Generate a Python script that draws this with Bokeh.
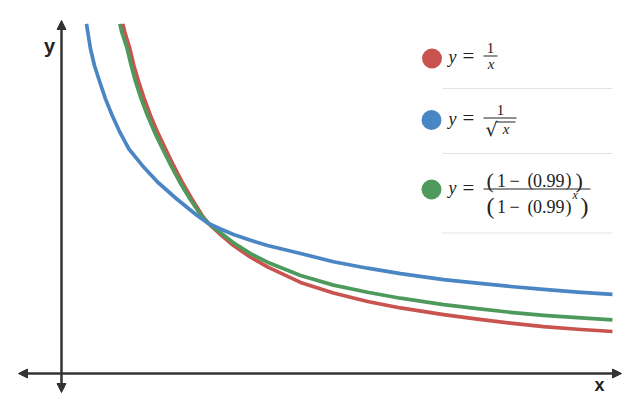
from bokeh.plotting import figure
from bokeh.models import Range1d, Label, Arrow, NormalHead
from bokeh.embed import file_html
from bokeh.resources import INLINE

# ---- data (math units: origin at axes crossing) ----
red_x = [0.417, 0.431, 0.465, 0.492, 0.526, 0.563, 0.605, 0.653, 0.707, 0.762,
         0.821, 0.886, 0.957, 1.000, 1.082, 1.170, 1.286, 1.401, 1.626, 1.850,
         2.082, 2.306, 2.599, 2.830, 3.054, 3.279, 3.510, 3.748]
red_y = [2.331, 2.275, 2.165, 2.053, 1.942, 1.831, 1.720, 1.609, 1.498, 1.387,
         1.275, 1.165, 1.053, 1.000, 0.926, 0.853, 0.775, 0.711, 0.607, 0.537,
         0.480, 0.437, 0.393, 0.362, 0.336, 0.313, 0.295, 0.280]

blue_x = [0.170, 0.179, 0.197, 0.224, 0.261, 0.299, 0.345, 0.397, 0.458, 0.549,
          0.655, 0.782, 0.923, 1.000, 1.082, 1.170, 1.286, 1.401, 1.626, 1.850,
          2.082, 2.306, 2.599, 2.830, 3.054, 3.279, 3.510, 3.748]
blue_y = [2.331, 2.275, 2.165, 2.053, 1.942, 1.831, 1.720, 1.609, 1.498, 1.387,
          1.275, 1.165, 1.053, 1.000, 0.963, 0.927, 0.888, 0.853, 0.800, 0.745,
          0.702, 0.666, 0.626, 0.602, 0.580, 0.561, 0.543, 0.527]

green_x = [0.397, 0.410, 0.447, 0.474, 0.505, 0.542, 0.585, 0.633, 0.687, 0.744,
           0.805, 0.873, 0.950, 1.000, 1.082, 1.170, 1.286, 1.401, 1.626, 1.850,
           2.082, 2.306, 2.599, 2.830, 3.054, 3.279, 3.510, 3.748]
green_y = [2.331, 2.275, 2.165, 2.053, 1.942, 1.831, 1.720, 1.609, 1.498, 1.387,
           1.275, 1.165, 1.053, 1.000, 0.938, 0.872, 0.799, 0.742, 0.653, 0.589,
           0.542, 0.502, 0.459, 0.432, 0.408, 0.388, 0.372, 0.358]

RED = "#c9534f"
BLUE = "#4a86c4"
GREEN = "#4e9a5c"
AXIS = "#333333"
TXT = "#222222"

# page-pixel -> data helpers
OX, OY, UX, UY = 61.0, 373.0, 147.0, 150.0
def dx(px):
    return (px - OX) / UX
def dy(py):
    return (OY - py) / UY

W, H = 625, 396
p = figure(width=W, height=H, output_backend="svg", toolbar_location=None,
           x_range=Range1d(dx(0), dx(W)), y_range=Range1d(dy(H), dy(0)),
           min_border=0, outline_line_color=None, background_fill_color="white")
p.axis.visible = False
p.grid.visible = False

# axes with arrows
def head():
    return NormalHead(size=9, fill_color=AXIS, line_color=AXIS, line_width=1)

p.add_layout(Arrow(x_start=dx(61), y_start=dy(392), x_end=dx(61), y_end=dy(20),
                   line_color=AXIS, line_width=2.5, start=head(), end=head()))
p.add_layout(Arrow(x_start=dx(18), y_start=dy(373), x_end=dx(621), y_end=dy(373),
                   line_color=AXIS, line_width=2.5, start=head(), end=head()))

# curves
p.line(red_x, red_y, line_color=RED, line_width=3.7, line_join="round")
p.line(green_x, green_y, line_color=GREEN, line_width=3.7, line_join="round")
p.line(blue_x, blue_y, line_color=BLUE, line_width=3.7, line_join="round")

# ---- text helper (baseline given in page px) ----
def lab(px, py, text, size, italic=False, bold=False, align="left",
        font="Liberation Serif"):
    style = "bold" if bold else ("italic" if italic else "normal")
    p.add_layout(Label(x=dx(px), y=dy(py - 0.38 * size), text=text, text_font=font,
                       text_font_style=style, text_font_size=f"{size}px",
                       text_color=TXT, text_align=align,
                       text_baseline="alphabetic"))

def hline(x0, x1, py, color=TXT, width=1.0):
    p.line([dx(x0), dx(x1)], [dy(py), dy(py)], line_color=color, line_width=width)

lab(49, 53, "y", 20, bold=True, align="center", font="Liberation Sans")
lab(599, 391, "x", 18, bold=True, align="center", font="Liberation Sans")

# ---- legend ----
p.scatter([dx(431.5), dx(431), dx(431)], [dy(58), dy(119.5), dy(189)],
          size=20, color=[RED, BLUE, GREEN], line_color=None)

for sy in (88, 153, 232.5):
    hline(442, 612, sy, color="#e3e3e3", width=1)

# item 1: y = 1/x
lab(448, 63, "y", 18, italic=True)
lab(462, 63.5, "=", 21)
lab(490, 53, "1", 15, align="center")
hline(483, 497, 55.5)
lab(490.5, 69, "x", 15, italic=True, align="center")

# item 2: y = 1/sqrt(x)
lab(448, 125, "y", 18, italic=True)
lab(462, 125.5, "=", 21)
lab(500, 115, "1", 15, align="center")
hline(483, 516, 117.5)
lab(485, 136, "√", 19, font="DejaVu Serif")
hline(496, 515, 121.5, width=1)
lab(505.5, 134, "x", 15, italic=True, align="center")

# item 3: y = (1-(0.99)) / (1-(0.99)^x)
lab(448, 194.5, "y", 18, italic=True)
lab(462, 195, "=", 21)
# numerator
lab(486, 188, "(", 22)
lab(496.5, 186.5, "1", 18)
lab(509, 186.5, "−", 18)
lab(527, 186.5, "(", 18)
lab(532.5, 186.5, "0.99", 18)
lab(565, 186.5, ")", 18)
lab(575, 188, ")", 22)
hline(483, 590, 188.5)
# denominator
lab(486, 215, "(", 24)
lab(496.5, 213, "1", 18)
lab(509, 213, "−", 18)
lab(527, 213, "(", 18)
lab(532.5, 213, "0.99", 18)
lab(565, 213, ")", 18)
lab(572, 199.5, "x", 12, italic=True)
lab(580, 215, ")", 24)

open("out.html", "w").write(file_html(p, INLINE))
